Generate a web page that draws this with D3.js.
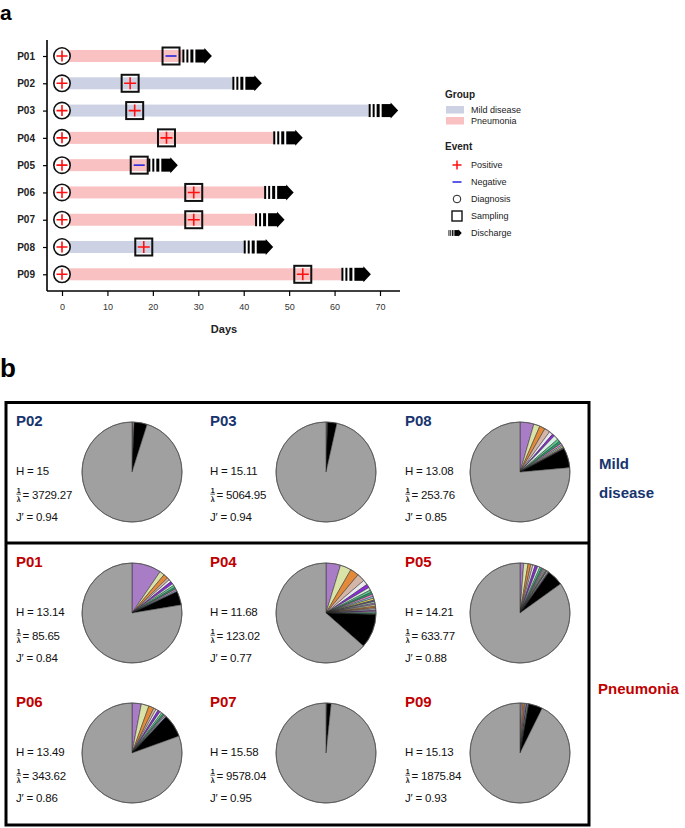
<!DOCTYPE html>
<html><head><meta charset="utf-8">
<script src="https://cdn.jsdelivr.net/npm/d3@7"></script>
<style>body{margin:0;background:#fff}svg{display:block;font-family:"Liberation Sans",Arial,Helvetica,sans-serif}</style>
</head><body><svg id="c" width="685" height="828"></svg>
<script>
// ---------------- DATA (panel a) ----------------
const patients = ["P01","P02","P03","P04","P05","P06","P07","P08","P09"];
const groups = ["Pneumonia","Mild disease","Mild disease","Pneumonia","Pneumonia","Pneumonia","Pneumonia","Mild disease","Pneumonia"];
const diagnosisDay = [0,0,0,0,0,0,0,0,0];
const diagnosisResult = ["Positive","Positive","Positive","Positive","Positive","Positive","Positive","Positive","Positive"];
const samplingDay = [24,15,16,23,17,29,29,18,53];
const samplingResult = ["Negative","Positive","Positive","Positive","Negative","Positive","Positive","Positive","Positive"];
const dischargeDay = [26.5,37.5,67.5,46.5,19,44.5,42.5,40,61.5];
const xTicks = [0,10,20,30,40,50,60,70];
const groupNames = ["Mild disease","Pneumonia"];
const eventNames = ["Positive","Negative","Diagnosis","Sampling","Discharge"];

// ---------------- DATA (panel b) ----------------
const pieIds = ["P02","P03","P08","P01","P04","P05","P06","P07","P09"];
const shannonH = ["15","15.11","13.08","13.14","11.68","14.21","13.49","15.58","15.13"];
const invSimpson = ["3729.27","5064.95","253.76","85.65","123.02","633.77","343.62","9578.04","1875.84"];
const evennessJ = ["0.94","0.94","0.85","0.84","0.77","0.88","0.86","0.95","0.93"];
// top clone frequencies (%) per sample, in drawing order
const clonesP02 = [0.4,0.3];
const clonesP03 = [0.3,0.2];
const clonesP08 = [4.5,2.0,1.8,1.8,1.2,0.8,1.5,0.9,0.8,0.6,0.5,0.4,0.4];
const clonesP01 = [9.5,1.6,1.5,0.8,0.8,0.9,0.6,0.7,0.6,0.5,0.4];
const clonesP04 = [4.7,3.6,2.8,2.6,1.6,1.2,0.9,0.8,0.7,0.7,0.6,0.6,0.5,0.5,0.5,0.5,0.5,0.4,0.4,0.4,0.4,0.3,0.3];
const clonesP05 = [1.2,1.4,0.9,0.7,0.7,0.9,0.7,0.6,0.5,0.4,0.4,0.3,0.4,0.4,0.3];
const clonesP06 = [3.0,2.5,1.7,0.8,0.7,0.8,0.6,0.6,0.5,0.4,0.4];
const clonesP07 = [0.2,0.15];
const clonesP09 = [0.5,0.4,0.5,0.3,0.3,0.3,0.3,0.2];
// share (%) of the many rare clones (drawn as the dark wedge)
const rareShare = [4.2,3.0,6.4,4.5,11.0,5.3,7.5,1.3,4.5];

// ---------------- STYLE ----------------
const groupColor = {"Mild disease":"#CDD1E4","Pneumonia":"#F9C1C1"};
const labelColor = {"Mild disease":"#17346E","Pneumonia":"#C00000"};
const palette = ["#A97DC6","#D9E3A7","#E28A3A","#D4B6A8","#E9E9EF","#8A2AD8","#D8F1E3","#5DC88E","#2F9C72","#EC8CC6","#9CC9E8","#EFE45A","#6B5B8E","#B8E0C0"];
const cloneSets = {P02:clonesP02,P03:clonesP03,P08:clonesP08,P01:clonesP01,P04:clonesP04,P05:clonesP05,P06:clonesP06,P07:clonesP07,P09:clonesP09};

const svg = d3.select("#c");

// ================= PANEL A =================
svg.append("text").attr("x",0).attr("y",19.5).attr("font-size",21).attr("font-weight","bold").text("a");

const x = d3.scaleLinear().domain([0,70]).range([62,380]);
const y = d3.scalePoint().domain(patients).range([56,274.3]);
const gA = svg.append("g");

// axes
const xAxis = gA.append("g").attr("transform","translate(0,291)")
  .call(d3.axisBottom(x).tickValues(xTicks).tickSize(5).tickPadding(8));
xAxis.select(".domain").remove();
xAxis.selectAll("text").attr("font-size",9).attr("fill","#333").attr("font-family","Liberation Sans, Arial, sans-serif");
xAxis.selectAll("line").attr("stroke","#000").attr("stroke-width",1.2);
const yAxis = gA.append("g").attr("transform","translate(47,0)")
  .call(d3.axisLeft(y).tickSize(4).tickPadding(8));
yAxis.select(".domain").remove();
yAxis.selectAll("text").attr("font-size",10).attr("font-weight","bold").attr("fill","#222").attr("font-family","Liberation Sans, Arial, sans-serif");
yAxis.selectAll("line").attr("stroke","#000").attr("stroke-width",1.2);
gA.append("line").attr("x1",47).attr("x2",400).attr("y1",291).attr("y2",291).attr("stroke","#000").attr("stroke-width",1.6);
gA.append("line").attr("x1",47).attr("x2",47).attr("y1",40).attr("y2",291).attr("stroke","#000").attr("stroke-width",1.6);
gA.append("text").attr("x",224).attr("y",333).attr("text-anchor","middle").attr("font-size",11).attr("font-weight","bold").attr("fill","#222").text("Days");

function plus(g,cx,cy,h,sw){
  g.append("path").attr("d",`M${cx-h},${cy}H${cx+h}M${cx},${cy-h}V${cy+h}`).attr("stroke","#FF1010").attr("stroke-width",sw).attr("fill","none");
}
function minus(g,cx,cy,h,sw){
  g.append("path").attr("d",`M${cx-h},${cy}H${cx+h}`).attr("stroke","#2424E0").attr("stroke-width",sw).attr("fill","none");
}
function discharge(g,x0,cy,s){
  const gg = g.append("g").attr("transform",`translate(${x0},${cy}) scale(${s})`);
  [[0,2],[4,6],[8,11],[13,23]].forEach(([a,b])=>{
    gg.append("rect").attr("x",a).attr("y",-6.5).attr("width",b-a).attr("height",13).attr("fill","#000");
  });
  gg.append("path").attr("d","M22,-8L29.5,0L22,8Z").attr("fill","#000");
}

patients.forEach((p,i)=>{
  const cy = y(p);
  gA.append("rect").attr("x",x(diagnosisDay[i])).attr("y",cy-6).attr("width",x(dischargeDay[i])-x(diagnosisDay[i])).attr("height",12).attr("fill",groupColor[groups[i]]);
  discharge(gA,x(dischargeDay[i]),cy,1);
  gA.append("circle").attr("cx",x(diagnosisDay[i])).attr("cy",cy).attr("r",8.2).attr("fill","#fff").attr("stroke","#111").attr("stroke-width",1.6);
  if(diagnosisResult[i]==="Positive") plus(gA,x(diagnosisDay[i]),cy,5.5,1.6); else minus(gA,x(diagnosisDay[i]),cy,5,1.6);
  const sx = x(samplingDay[i]);
  gA.append("rect").attr("x",sx-8.5).attr("y",cy-8.5).attr("width",17).attr("height",17).attr("fill","none").attr("stroke","#111").attr("stroke-width",2);
  if(samplingResult[i]==="Positive") plus(gA,sx,cy,6,1.6); else minus(gA,sx,cy,5.5,1.6);
});

// legend
const lg = svg.append("g");
lg.append("text").attr("x",445).attr("y",98).attr("font-size",10).attr("font-weight","bold").attr("fill","#222").text("Group");
groupNames.forEach((n,i)=>{
  const yy = 106 + i*11;
  lg.append("rect").attr("x",446).attr("y",yy).attr("width",18).attr("height",7.5).attr("fill",groupColor[n]);
  lg.append("text").attr("x",471).attr("y",yy+7).attr("font-size",9).attr("fill","#222").text(n);
});
lg.append("text").attr("x",445).attr("y",150).attr("font-size",10).attr("font-weight","bold").attr("fill","#222").text("Event");
eventNames.forEach((n,i)=>{
  const yy = 165 + i*17;
  const sx = 457;
  if(n==="Positive") plus(lg,sx,yy,4.5,1.5);
  if(n==="Negative") minus(lg,sx,yy,4.5,1.5);
  if(n==="Diagnosis") lg.append("circle").attr("cx",sx).attr("cy",yy).attr("r",3.8).attr("fill","none").attr("stroke","#222").attr("stroke-width",1);
  if(n==="Sampling") lg.append("rect").attr("x",sx-5).attr("y",yy-5).attr("width",10).attr("height",10).attr("fill","none").attr("stroke","#111").attr("stroke-width",1.4);
  if(n==="Discharge") discharge(lg,sx-8.5,yy,0.45);
  lg.append("text").attr("x",471).attr("y",yy+3.3).attr("font-size",9).attr("fill","#222").text(n);
});

// ================= PANEL B =================
svg.append("text").attr("x",0).attr("y",377).attr("font-size",26).attr("font-weight","bold").text("b");
const gB = svg.append("g");
gB.append("rect").attr("x",6).attr("y",402.5).attr("width",583).attr("height",422.5).attr("fill","none").attr("stroke","#000").attr("stroke-width",3);
gB.append("line").attr("x1",6).attr("x2",589).attr("y1",543).attr("y2",543).attr("stroke","#000").attr("stroke-width",3);

gB.append("text").attr("x",599).attr("y",469).attr("font-size",15).attr("font-weight","bold").attr("fill",labelColor["Mild disease"]).text("Mild");
gB.append("text").attr("x",599).attr("y",498).attr("font-size",15).attr("font-weight","bold").attr("fill",labelColor["Mild disease"]).text("disease");
gB.append("text").attr("x",598).attr("y",694).attr("font-size",15).attr("font-weight","bold").attr("fill",labelColor["Pneumonia"]).text("Pneumonia");

const colTextX = [16,210,405];
const colPieX = [132,326,520];
const rowY = [472,613,753];
const R = 50;
const pie = d3.pie().sort(null).value(d=>d.v);
const arc = d3.arc().innerRadius(0).outerRadius(R);

pieIds.forEach((id,i)=>{
  const r = Math.floor(i/3), c = i%3;
  const tx = colTextX[c], cx = colPieX[c], cy = rowY[r];
  const grp = groups[patients.indexOf(id)];
  gB.append("text").attr("x",tx).attr("y",cy-46.5).attr("font-size",15).attr("font-weight","bold").attr("fill",labelColor[grp]).text(id);
  const vt = gB.append("g").attr("font-size",11.5).attr("fill","#111").attr("letter-spacing","-0.2");
  vt.append("text").attr("x",tx).attr("y",cy+3).text("H = "+shannonH[i]);
  vt.append("text").attr("x",tx+2.6).attr("y",cy+20.5).attr("font-size",7).attr("font-weight","bold").attr("text-anchor","middle").text("1");
  vt.append("line").attr("x1",tx+0.4).attr("x2",tx+5).attr("y1",cy+22.2).attr("y2",cy+22.2).attr("stroke","#111").attr("stroke-width",0.7);
  vt.append("text").attr("x",tx+2.6).attr("y",cy+29.5).attr("font-size",7).attr("font-weight","bold").attr("text-anchor","middle").text("λ");
  vt.append("text").attr("x",tx+6.5).attr("y",cy+27).text("= "+invSimpson[i]);
  vt.append("text").attr("x",tx).attr("y",cy+49).text("J\u2032 = "+evennessJ[i]);

  const clones = cloneSets[id];
  const tot = d3.sum(clones) + rareShare[i];
  const slices = clones.map((v,k)=>({v:v,color:palette[k%palette.length]}))
    .concat([{v:rareShare[i],color:"#000"},{v:100-tot,color:"#A0A0A0"}]);
  const pg = gB.append("g").attr("transform",`translate(${cx},${cy})`);
  pg.selectAll("path").data(pie(slices)).join("path").attr("d",arc)
    .attr("fill",d=>d.data.color).attr("stroke","#222").attr("stroke-width",0.45).attr("stroke-linejoin","round");
  pg.append("circle").attr("r",R).attr("fill","none").attr("stroke","#555").attr("stroke-width",0.8);
});
</script></body></html>
